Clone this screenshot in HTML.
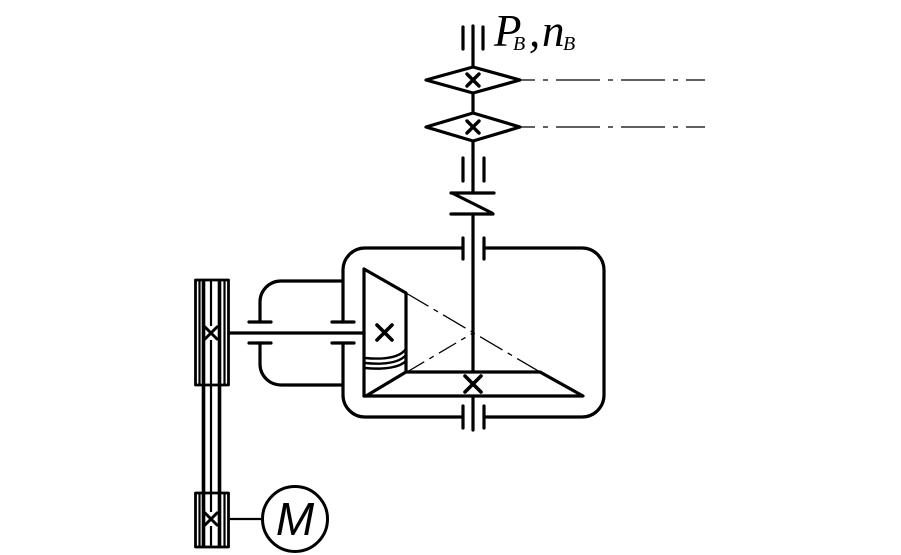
<!DOCTYPE html>
<html><head><meta charset="utf-8"><style>
html,body{margin:0;padding:0;background:#fff;}
svg{display:block;}
</style></head><body>
<svg width="901" height="555" viewBox="0 0 901 555" xmlns="http://www.w3.org/2000/svg">
<rect width="901" height="555" fill="#fff"/>
<g fill="none" stroke="#000" stroke-width="3.2" stroke-linecap="round" stroke-linejoin="round">
  <!-- top bearing -->
  <path d="M463,27 V49 M483,27 V49"/>
  <!-- shaft -->
  <path d="M473,26 V193 M473,214 V372 M473,396 V430"/>
  <!-- sprockets -->
  <polygon points="426,80 473,67 520,80 473,93" fill="#fff"/>
  <polygon points="426,127 473,113 520,127 473,141" fill="#fff"/>
  <path d="M467,74 L479,86 M479,74 L467,86" stroke-width="3.4"/>
  <path d="M467,121 L479,133 M479,121 L467,133" stroke-width="3.4"/>
  <!-- bearing -->
  <path d="M463,158 V181 M484,158 V181"/>
  <!-- clutch -->
  <path d="M451,193 H494 M452,193 L492,213 M451,214 H493"/>
  <!-- housing bearings -->
  <path d="M463,238 V259 M484,238 V259"/>
  <path d="M463,406 V428 M484,406 V428"/>
  <!-- housing -->
  <path d="M463,248 H365 A22,22 0 0 0 343,270 V322 M343,343 V395 A22,22 0 0 0 365,417 H463 M484,417 H582 A22,22 0 0 0 604,395 V270 A22,22 0 0 0 582,248 H484"/>
  <!-- left bracket -->
  <path d="M343,281 H281 A21,21 0 0 0 260,302 V322 M260,343 V364 A21,21 0 0 0 281,385 H343"/>
  <path d="M249,322 H271 M249,343 H271 M332,322 H354 M332,343 H354"/>
  <!-- input shaft -->
  <path d="M229,333 H364"/>
  <!-- pinion -->
  <path d="M364,269 V396 M364,269 L406,293 V372 M366,396 L406,372"/>
  <path d="M365,358 C386,360 400,357 406,349 M365,363 C386,365 400,362 406,355 M365,368 C386,370 400,367 406,361" stroke-width="2.4"/>
  <path d="M377,325 L392,340 M392,325 L377,340" stroke-width="3.6"/>
  <!-- wheel -->
  <path d="M406,372 H540 L583,396 H364"/>
  <path d="M465,376 L481,392 M481,376 L465,392" stroke-width="3.6"/>
  <!-- pulleys -->
  <rect x="195.5" y="280" width="33" height="105" stroke-width="2.8" stroke-linecap="butt"/>
  <rect x="195.5" y="493" width="33" height="54" stroke-width="2.8" stroke-linecap="butt"/>
  <path d="M199.5,281 V384 M224.5,281 V384 M199.5,494 V546 M224.5,494 V546" stroke-width="2.2" stroke-linecap="butt"/>
  <path d="M203.5,281 V546 M219.5,281 V546" stroke-width="3.6" stroke-linecap="butt"/>
  <path d="M211,281 V326 M211,340 V512 M211,526 V546" stroke-width="2.2" stroke-linecap="butt"/>
  <path d="M205,327 L217,339 M217,327 L205,339" stroke-width="3"/>
  <path d="M205,513 L217,525 M217,513 L205,525" stroke-width="3"/>
  <!-- motor -->
  <path d="M229,519 H262" stroke-width="2.2"/>
  <circle cx="295" cy="519" r="32.5" stroke-width="3"/>
</g>
<!-- thin dash-dot lines -->
<g fill="none" stroke="#000" stroke-width="1.3">
  <path d="M520,80 H705 M520,127 H705" stroke-dasharray="44 8 5 8" stroke-dashoffset="29"/>
  <path d="M406,293 L540,372" stroke-dasharray="26 6 5 6"/>
  <path d="M407,372 L473,333" stroke-dasharray="20 6 5 6"/>
</g>
<g font-family="'Liberation Serif', serif" font-style="italic" fill="#000">
  <text x="494" y="46" font-size="45">P</text>
  <text x="513" y="50" font-size="20">B</text>
  <text x="529" y="46" font-size="45">,</text>
  <text x="542" y="46" font-size="45">n</text>
  <text x="563" y="50" font-size="20">B</text>
</g>
<text x="295" y="535" font-family="'Liberation Sans', sans-serif" font-style="italic" font-size="46" text-anchor="middle" fill="#000">M</text>
</svg>
</body></html>
